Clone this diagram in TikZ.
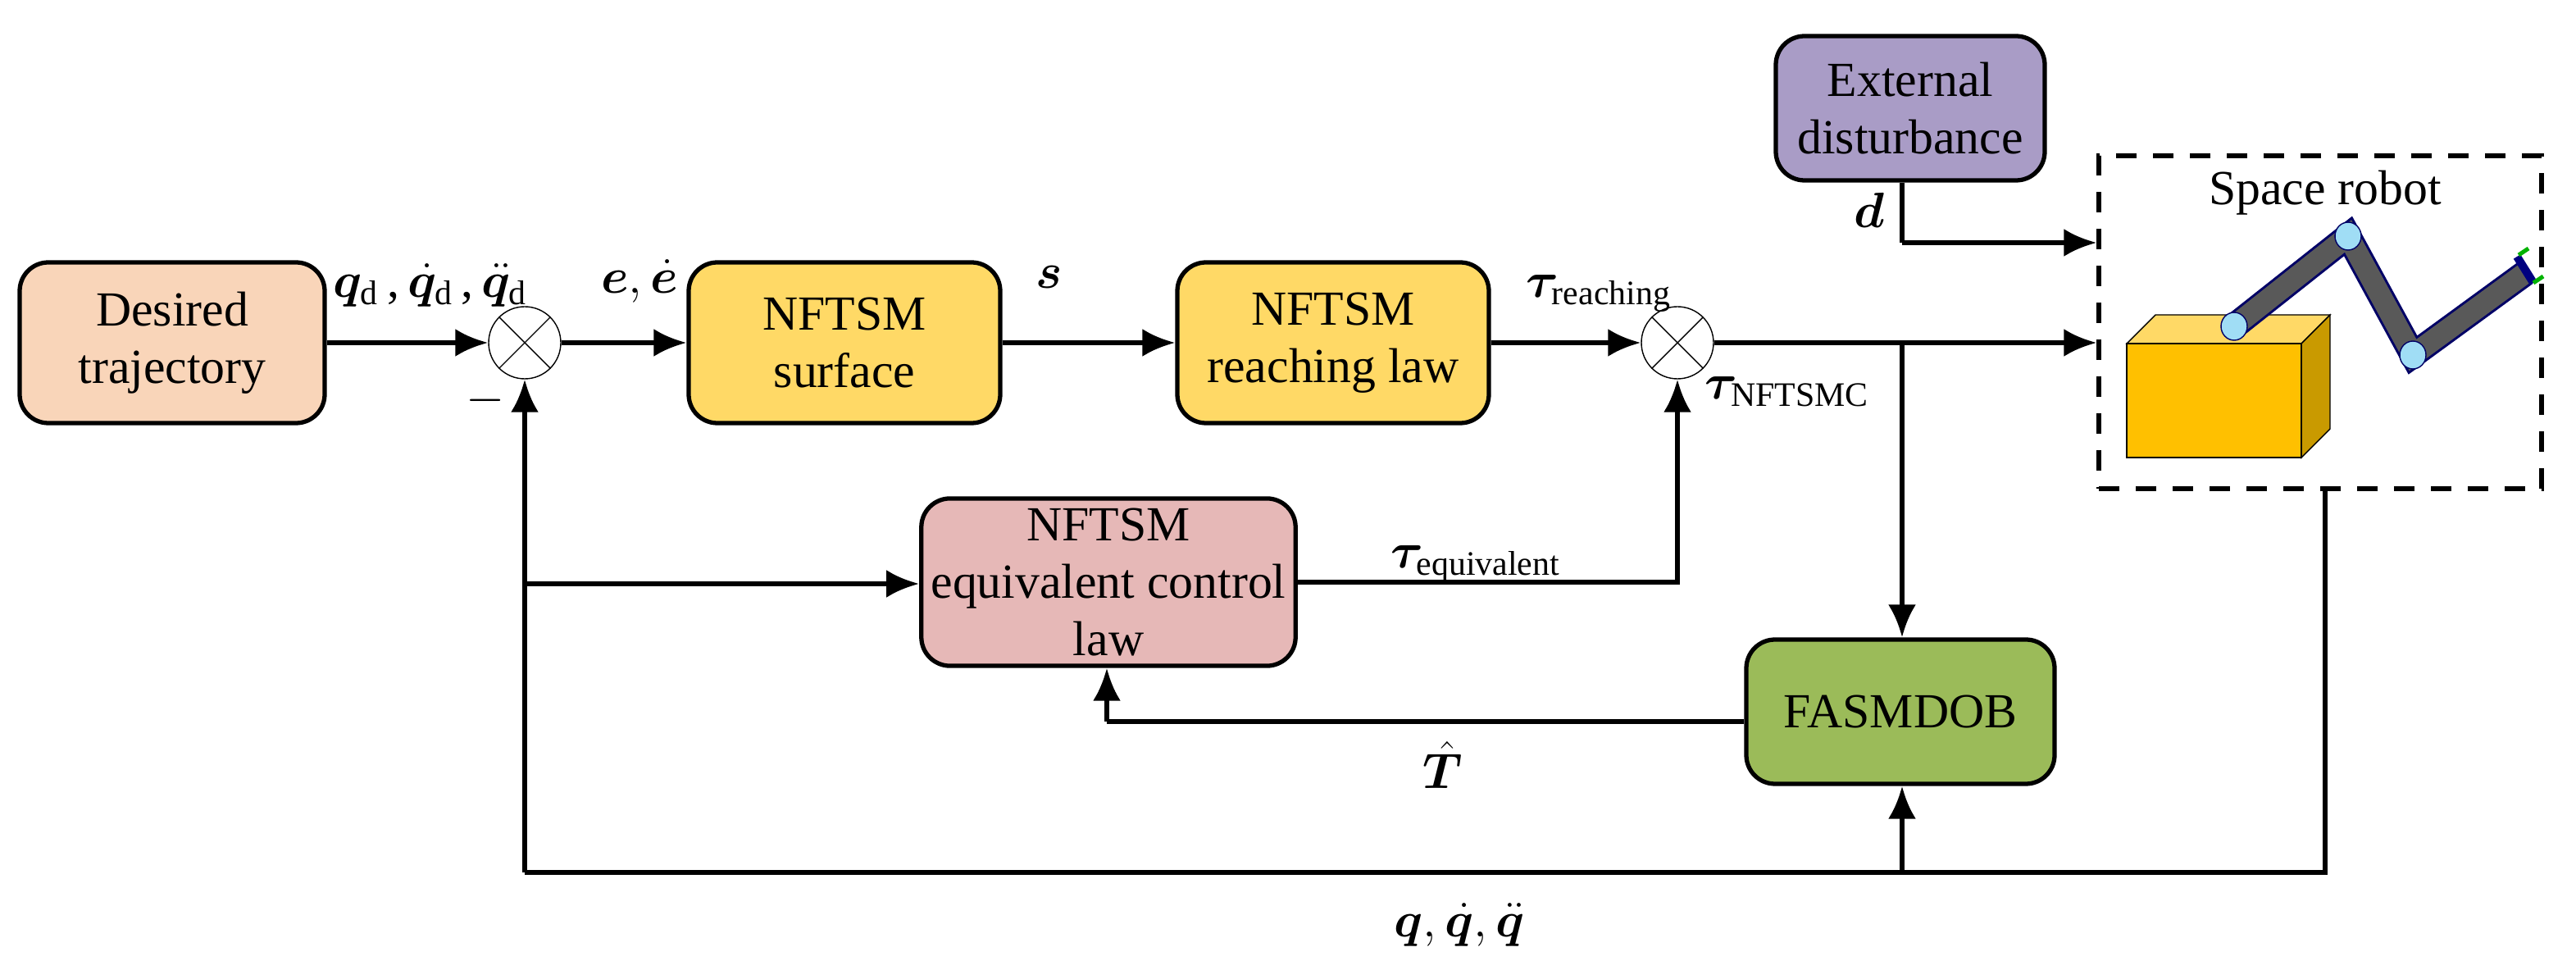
\documentclass[tikz,border=0pt]{standalone}
\usepackage{fontspec}
\setmainfont{Liberation Serif}
\usepackage{bm}
\usetikzlibrary{arrows.meta}
\definecolor{peach}{HTML}{F9D5B9}
\definecolor{gold}{HTML}{FFD966}
\definecolor{rose}{HTML}{E6B8B7}
\definecolor{lilac}{HTML}{A99CC6}
\definecolor{leaf}{HTML}{9BBB59}
\definecolor{boxfront}{HTML}{FFC000}
\definecolor{boxside}{HTML}{C99A00}
\definecolor{joint}{HTML}{A0DDF5}
\tikzstyle{bloque}=[draw, line width=1.5pt, rounded corners=0.35cm, text centered,
  align=center, font=\fontsize{17}{20}\selectfont]
\tikzstyle{sumador}=[draw, circle, thin, minimum size=0.88cm, inner sep=0pt]
\tikzstyle{line}=[draw, line width=1.7pt, -{Latex[length=0.4cm,width=0.34cm]}]
\tikzstyle{seg}=[draw, line width=1.7pt]
\tikzstyle{etiq}=[font=\fontsize{17}{20}\selectfont]
\begin{document}
\begin{tikzpicture}
  \useasboundingbox (0,0) rectangle (31.42,11.83);

  % bloques
  \node (DESIRED) [bloque, fill=peach, minimum width=3.72cm, minimum height=1.96cm] at (2.10,7.65) {Desired\\trajectory};
  \node (SUM1) [sumador] at (6.40,7.65) {};
  \node (SURFACE) [bloque, fill=gold, minimum width=3.80cm, minimum height=1.96cm] at (10.30,7.65) {NFTSM\\surface};
  \node (REACHING) [bloque, fill=gold, minimum width=3.80cm, minimum height=1.96cm] at (16.26,7.65) {NFTSM\\reaching law};
  \node (SUM2) [sumador] at (20.46,7.65) {};
  \node (EXTERNAL) [bloque, fill=lilac, minimum width=3.28cm, minimum height=1.76cm] at (23.30,10.51) {External\\disturbance};
  \node (EQUIV) [bloque, fill=rose, minimum width=4.56cm, minimum height=1.96cm] at (13.52,4.73) {NFTSM\\equivalent control\\law};
  \node (FASMDOB) [bloque, fill=leaf, minimum width=3.76cm, minimum height=1.76cm] at (23.18,3.15) {FASMDOB};
  \node (ROBOT) [draw, line width=1.5pt, dash pattern=on 0.25cm off 0.2cm,
    minimum width=5.40cm, minimum height=4.06cm] at (28.30,7.90) {};
  \node (ROBOTTXT) [etiq] at (28.36,9.48) {Space robot};
  \foreach \s in {SUM1,SUM2}{
    \draw[thin] (\s.north west) -- (\s.south east);
    \draw[thin] (\s.north east) -- (\s.south west);
  }

  % robot
  \fill[gold, draw=black] (25.94,7.64) -- (26.29,7.99) -- (28.42,7.99) -- (28.07,7.64) -- cycle;
  \fill[boxside, draw=black] (28.07,7.64) -- (28.42,7.99) -- (28.42,6.60) -- (28.07,6.25) -- cycle;
  \fill[boxfront, draw=black] (25.94,6.25) rectangle (28.07,7.64);
  \coordinate (J1) at (27.25,7.85);
  \coordinate (J2) at (28.64,8.95);
  \coordinate (J3) at (29.43,7.50);
  \coordinate (TIP) at (30.80,8.50);
  \draw[line width=0.32cm, draw=black!60!blue] (J1) -- (J2) -- (J3) -- (TIP);
  \draw[line width=0.26cm, draw=black!65] (J1) -- (J2) -- (J3) -- (TIP);
  \draw[line width=0.1cm, draw=blue!50!black] (30.70,8.70) -- (30.90,8.38);
  \draw[line width=0.05cm, draw=green!70!black] (30.72,8.72) -- (30.84,8.80) (30.90,8.38) -- (31.02,8.46);
  \foreach \j in {J1,J2,J3}
    \fill[joint, draw=blue!40!black] (\j) ellipse (0.16cm and 0.17cm);

  % flechas
  \path [line] (DESIRED.east) -- (SUM1.west);
  \path [line] (SUM1.east) -- (SURFACE.west);
  \path [line] (SURFACE.east) -- (REACHING.west);
  \path [line] (REACHING.east) -- (SUM2.west);
  \path [line] (SUM2.east) -- (ROBOT.west |- SUM2);
  \coordinate (DIST) at (23.20,8.87);
  \path [seg] (EXTERNAL.south -| DIST) -- (DIST);
  \path [line] (DIST) -- (ROBOT.west |- DIST);
  \coordinate (BRANCH) at (23.20,7.65);
  \path [line] (BRANCH) -- (FASMDOB.north -| BRANCH);
  \path [line] (EQUIV.east) -| (SUM2.south);
  \coordinate (THAT) at (13.50,3.03);
  \path [seg] (FASMDOB.west |- THAT) -- (THAT);
  \path [line] (THAT) -- (EQUIV.south -| THAT);
  \coordinate (BOTR) at (28.36,1.19);
  \coordinate (BOTL) at (6.40,1.19);
  \coordinate (BOTM) at (23.20,1.19);
  \coordinate (TAP) at (6.40,4.71);
  \path [seg] (ROBOT.south -| BOTR) -- (BOTR) -- (BOTL);
  \path [line] (BOTL) -- (SUM1.south);
  \path [line] (TAP) -- (EQUIV.west |- TAP);
  \path [line] (BOTM) -- (FASMDOB.south -| BOTM);

  % etiquetas
  \node [etiq] at (5.25,8.35) {$\bm{q}_{\mathrm{d}}$\,,\,$\dot{\bm{q}}_{\mathrm{d}}$\,,\,$\ddot{\bm{q}}_{\mathrm{d}}$};
  \node [etiq] at (5.92,6.95) {$-$};
  \node [etiq] at (7.80,8.40) {$\bm{e},\dot{\bm{e}}$};
  \node [etiq] at (12.80,8.45) {$\bm{s}$};
  \node [etiq] at (19.50,8.25) {$\bm{\tau}_{\mathrm{reaching}}$};
  \node [etiq] at (21.80,7.05) {$\bm{\tau}_{\mathrm{NFTSMC}}$};
  \node [etiq] at (18.00,4.95) {$\bm{\tau}_{\mathrm{equivalent}}$};
  \node [etiq] at (17.60,2.50) {$\hat{\bm{T}}$};
  \node [etiq] at (17.80,0.55) {$\bm{q},\dot{\bm{q}},\ddot{\bm{q}}$};
  \node [etiq] at (22.80,9.27) {$\bm{d}$};
\end{tikzpicture}
\end{document}
